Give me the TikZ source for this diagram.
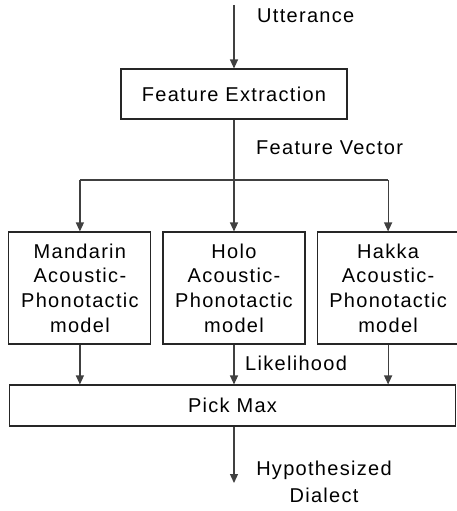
\documentclass[tikz,border=0pt]{standalone}
\usepackage{fontspec}
\setmainfont[LetterSpace=6.5]{Liberation Sans}
\usetikzlibrary{arrows.meta, positioning}
\tikzstyle{block} = [rectangle, draw=black!85, line width=1.1pt, text centered, inner sep=0pt, font=\fontsize{20}{24.7}\selectfont]
\tikzstyle{model} = [block, minimum width=142pt, minimum height=112pt, text width=140pt]
\tikzstyle{label} = [inner sep=0pt, anchor=west, font=\fontsize{20}{27}\selectfont]
\tikzstyle{arrow} = [draw=black!75, line width=1.2pt, -{Triangle[length=9pt,width=8pt]}]
\tikzstyle{line} = [draw=black!75, line width=1.2pt]

\begin{document}
\begin{tikzpicture}[x=1pt, y=1pt]
\useasboundingbox (0,0) rectangle (456,-511);

\coordinate (start) at (234,-5);
\node (featext) [block, minimum width=226pt, minimum height=50pt] at (234,-94) {Feature Extraction};
\coordinate (split) at (234,-180);
\node (holo) [model] at (234,-288) {Holo\\Acoustic-\\Phonotactic\\model};
\node (mandarin) [model, left=11pt of holo] {Mandarin\\Acoustic-\\Phonotactic\\model};
\node (hakka) [model, right=11pt of holo] {Hakka\\Acoustic-\\Phonotactic\\model};
\node (pickmax) [block, minimum width=446pt, minimum height=41pt] at (232.5,-405.5) {Pick Max};
\coordinate (finish) at (234,-483);

\node (utter) [label] at (257,-16) {Utterance};
\node (featvec) [label] at (256,-148) {Feature Vector};
\node (likeli) [label] at (245,-363) {Likelihood};
\node (dialect) [label, anchor=center, align=center] at (324,-482) {Hypothesized\\Dialect};

\draw [arrow] (start) -- (featext);
\draw [line] (featext) -- (split);
\draw [line] (mandarin.north |- split) -- (hakka.north |- split);
\draw [arrow] (split) -- (holo);
\draw [arrow] (mandarin.north |- split) -- (mandarin);
\draw [arrow] (hakka.north |- split) -- (hakka);
\draw [arrow] (mandarin) -- (mandarin |- pickmax.north);
\draw [arrow] (holo) -- (holo |- pickmax.north);
\draw [arrow] (hakka) -- (hakka |- pickmax.north);
\draw [arrow] (pickmax.south -| featext) -- (finish);
\end{tikzpicture}
\end{document}
